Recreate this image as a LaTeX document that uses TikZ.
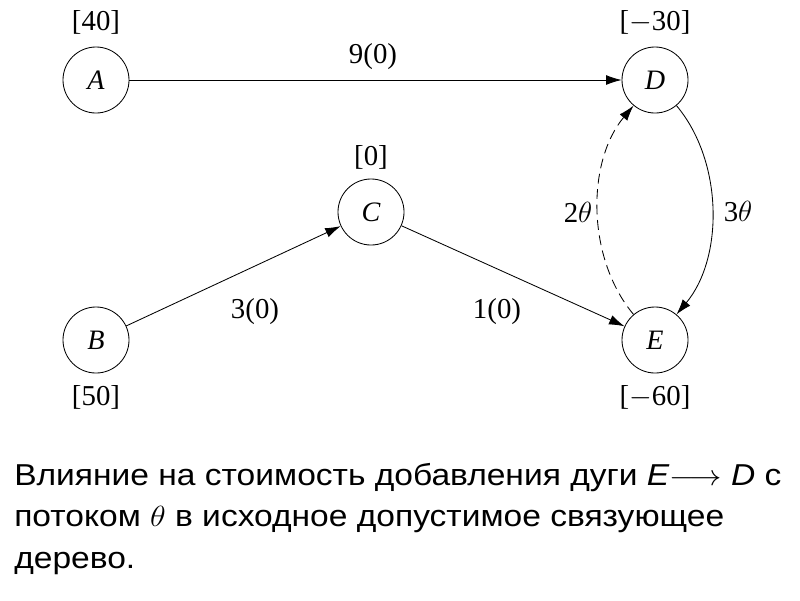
\documentclass[tikz,border=0pt]{standalone}
\usepackage{fontspec}
\usepackage{graphicx}
\setmainfont{Liberation Serif}
\newfontfamily\capfont{Liberation Sans}
\usetikzlibrary{arrows.meta}
\begin{document}
\begin{tikzpicture}[x=0.025cm,y=-0.025cm,
  vert/.style={draw,circle,inner sep=0pt,minimum size=1.65cm,font=\fontsize{20}{23}\selectfont\itshape,line width=0.6pt},
  lbl/.style={font=\fontsize{20.5}{24}\selectfont},
  arr/.style={line width=0.6pt,-{Latex[length=11pt,width=7pt]}},
  every node/.append style={text=black}]
\useasboundingbox (0,0) rectangle (800,600);
\node[vert] (A) at (96,80) {A};
\node[vert] (D) at (655,80) {D};
\node[vert] (C) at (371,212) {C};
\node[vert] (B) at (96,340) {B};
\node[vert] (E) at (655,340) {E};
\node[lbl] (lA) at (96,22) {[40]};
\node[lbl] (lD) at (655,22) {[$-$30]};
\node[lbl] (lC) at (371,157) {[0]};
\node[lbl] (lB) at (96,397) {[50]};
\node[lbl] (lE) at (655,397) {[$-$60]};
\draw[arr] (A) -- (D);
\draw[arr] (B) -- (C);
\draw[arr] (C) -- (E);
\draw[arr] (D) to[bend left=40,looseness=0.9] (E);
\draw[arr,dash pattern=on 7pt off 4pt] (E) to[bend left=40,looseness=0.9] (D);
\node[lbl] (e1) at (373,57) {9(0)};
\node[lbl] (e2) at (255,312) {3(0)};
\node[lbl] (e3) at (497,312) {1(0)};
\node[lbl] (e4) at (578,212) {2$\theta$};
\node[lbl] (e5) at (738,212) {3$\theta$};
\node[anchor=north west,inner sep=0pt,font=\capfont\fontsize{21.5}{29.5}\selectfont] (cap) at (14,456)
  {\scalebox{1.11}[1]{\begin{tabular}{@{}l@{}}Влияние на стоимость добавления дуги \textit{E}$\longrightarrow$ \textit{D} с\\
   потоком $\theta$ в исходное допустимое связующее\\
   дерево.\end{tabular}}};
\end{tikzpicture}
\end{document}
